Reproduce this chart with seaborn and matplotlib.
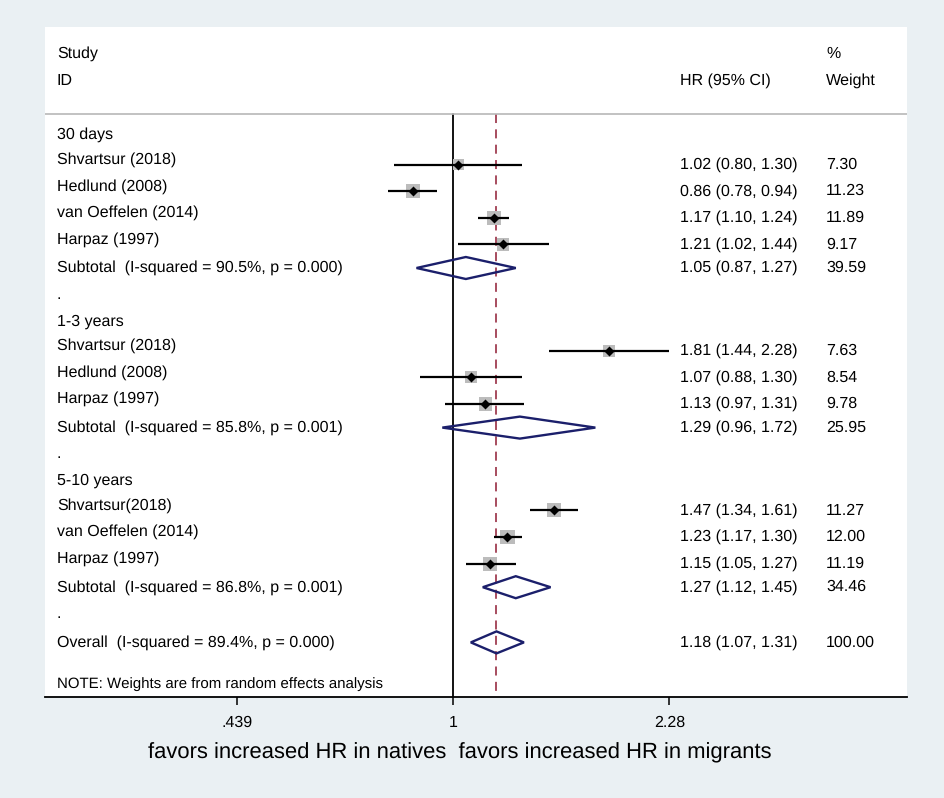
import numpy as np
import pandas as pd
import matplotlib
matplotlib.use("Agg")
import matplotlib.pyplot as plt
import seaborn as sns
from matplotlib import transforms

# ---------------- data ----------------
groups = ["30 days", "1-3 years", "5-10 years"]
study_group = [0, 0, 0, 0, 1, 1, 1, 2, 2, 2]
studies = ["Shvartsur (2018)", "Hedlund (2008)", "van Oeffelen (2014)", "Harpaz (1997)",
           "Shvartsur (2018)", "Hedlund (2008)", "Harpaz (1997)",
           "Shvartsur(2018)", "van Oeffelen (2014)", "Harpaz (1997)"]
hr = [1.02, 0.86, 1.17, 1.21, 1.81, 1.07, 1.13, 1.47, 1.23, 1.15]
lo = [0.80, 0.78, 1.10, 1.02, 1.44, 0.88, 0.97, 1.34, 1.17, 1.05]
hi = [1.30, 0.94, 1.24, 1.44, 2.28, 1.30, 1.31, 1.61, 1.30, 1.27]
weights = [7.30, 11.23, 11.89, 9.17, 7.63, 8.54, 9.78, 11.27, 12.00, 11.19]

sub_hr = [1.05, 1.29, 1.27]
sub_lo = [0.87, 0.96, 1.12]
sub_hi = [1.27, 1.72, 1.45]
sub_wt = [39.59, 25.95, 34.46]
sub_i2 = [90.5, 85.8, 86.8]
sub_p = [0.000, 0.001, 0.001]

overall_hr, overall_lo, overall_hi, overall_wt = 1.18, 1.07, 1.31, 100.00
overall_i2, overall_p = 89.4, 0.000

xticks = [0.439, 1, 2.28]
xticklabels = [".439", "1", "2.28"]
note = "NOTE: Weights are from random effects analysis"
xlabel = "favors increased HR in natives  favors increased HR in migrants"

# ---------------- style ----------------
sns.set_theme(style="white")
plt.rcParams["font.family"] = ["Liberation Sans", "DejaVu Sans"]
plt.rcParams["text.color"] = "black"
plt.rcParams["xtick.color"] = "black"
plt.rcParams["xtick.labelcolor"] = "black"
plt.rcParams["text.hinting"] = "no_hinting"
plt.rcParams["text.hinting_factor"] = 1

BG = "#eaf0f3"
NAVY = "#1b1f6b"
RED = "#a03e52"
GREY_SQ = "#bcbcbc"
FS = 11.85

W, H = 945, 798
fig = plt.figure(figsize=(W / 100, H / 100), dpi=100, facecolor=BG)
px_l, px_r, px_t, px_b = 45, 907, 27, 697
ax = fig.add_axes([px_l / W, 1 - px_b / H, (px_r - px_l) / W, (px_b - px_t) / H])
ax.set_facecolor("white")

# layout (pixel-like y units, top to bottom)
first_row, pitch = 135, 26.6
ax.set_xscale("log")
ax.set_xlim(0.2112, 5.64)
ax.set_ylim(px_b, px_t)

tr = transforms.blended_transform_factory(ax.transAxes, ax.transData)
xl, xhr, xw = 0.0139, 0.7367, 0.906

# build row table
rows = []
r = 0
for g, gname in enumerate(groups):
    rows.append(dict(kind="header", label=gname, y=first_row + r * pitch)); r += 1
    for i, s in enumerate(studies):
        if study_group[i] == g:
            rows.append(dict(kind="study", label=s, y=first_row + r * pitch,
                             hr=hr[i], lo=lo[i], hi=hi[i], w=weights[i])); r += 1
    rows.append(dict(kind="sub",
                     label=f"Subtotal  (I-squared = {sub_i2[g]:.1f}%, p = {sub_p[g]:.3f})",
                     y=first_row + r * pitch, hr=sub_hr[g], lo=sub_lo[g], hi=sub_hi[g], w=sub_wt[g])); r += 1
    rows.append(dict(kind="dot", label=".", y=first_row + r * pitch)); r += 1
rows.append(dict(kind="sub", label=f"Overall  (I-squared = {overall_i2:.1f}%, p = {overall_p:.3f})",
                 y=first_row + r * pitch + 2, hr=overall_hr, lo=overall_lo, hi=overall_hi, w=overall_wt))
df = pd.DataFrame(rows)

# header
sep_y = 114
ax.text(xl, 54, "Study", transform=tr, fontsize=FS, va="center", ha="left")
ax.text(xl, 81, "ID", transform=tr, fontsize=FS, va="center", ha="left")
ax.text(xhr, 81, "HR (95% CI)", transform=tr, fontsize=FS, va="center", ha="left")
ax.text(xw, 54, "%", transform=tr, fontsize=FS, va="center", ha="left")
ax.text(xw, 81, "Weight", transform=tr, fontsize=FS, va="center", ha="left")
ax.axhline(sep_y, color="#b8b8b8", lw=1.2)

# reference lines
ax.plot([1, 1], [sep_y, px_b], color="black", lw=1.3, zorder=1)
ax.plot([overall_hr, overall_hr], [sep_y, px_b], color=RED, lw=1.3,
        dashes=(5, 3.5), zorder=1)

# studies
st = df[df.kind == "study"].copy()
st["ym"] = st["y"] + 3
ax.hlines(st["ym"], st["lo"], st["hi"], color="black", lw=1.6, zorder=3)
ax.scatter(st["hr"], st["ym"], marker="s", s=st["w"].to_numpy() * 9.0,
           color=GREY_SQ, linewidths=0, zorder=2)
sns.scatterplot(data=st, x="hr", y="ym", marker="D", s=26,
                color="black", linewidth=0, ax=ax, zorder=4, legend=False)

# diamonds
half_h = 11
for _, rw in df[df.kind == "sub"].iterrows():
    yy = rw["y"]
    ax.fill([rw["lo"], rw["hr"], rw["hi"], rw["hr"], rw["lo"]],
            [yy, yy - half_h, yy, yy + half_h, yy],
            fill=False, edgecolor=NAVY, lw=1.7, zorder=3)

# texts
for _, rw in df.iterrows():
    ly = rw["y"] - (2 if rw["kind"] == "study" else 0)
    ax.text(xl, ly, rw["label"], transform=tr, fontsize=FS, va="center", ha="left")
    if rw["kind"] in ("study", "sub"):
        ym = rw["y"] + (3 if rw["kind"] == "study" else 0)
        ax.text(xhr, ym, f"{rw['hr']:.2f} ({rw['lo']:.2f}, {rw['hi']:.2f})",
                transform=tr, fontsize=FS, va="center", ha="left")
        ax.text(xw, ym, f"{rw['w']:.2f}", transform=tr, fontsize=FS, va="center", ha="left")

ax.text(xl, 684, note, transform=tr, fontsize=11.0, va="center", ha="left")

# axes styling
for side in ["top", "left", "right"]:
    ax.spines[side].set_visible(False)
ax.spines["bottom"].set_color("black")
ax.spines["bottom"].set_linewidth(1.3)
ax.set_yticks([])
ax.set_xticks(xticks)
ax.set_xticklabels(xticklabels)
ax.minorticks_off()
ax.tick_params(axis="x", direction="out", length=6, width=1.1, color="black",
               labelcolor="black", labelsize=11.6, pad=7, bottom=True)
ax.set_xlabel("")
ax.set_ylabel("")

fig.text(460 / W, 1 - 753 / H, xlabel, fontsize=16.1, ha="center", va="center", color="black")

fig.savefig("out.png", dpi=100, facecolor=BG)
